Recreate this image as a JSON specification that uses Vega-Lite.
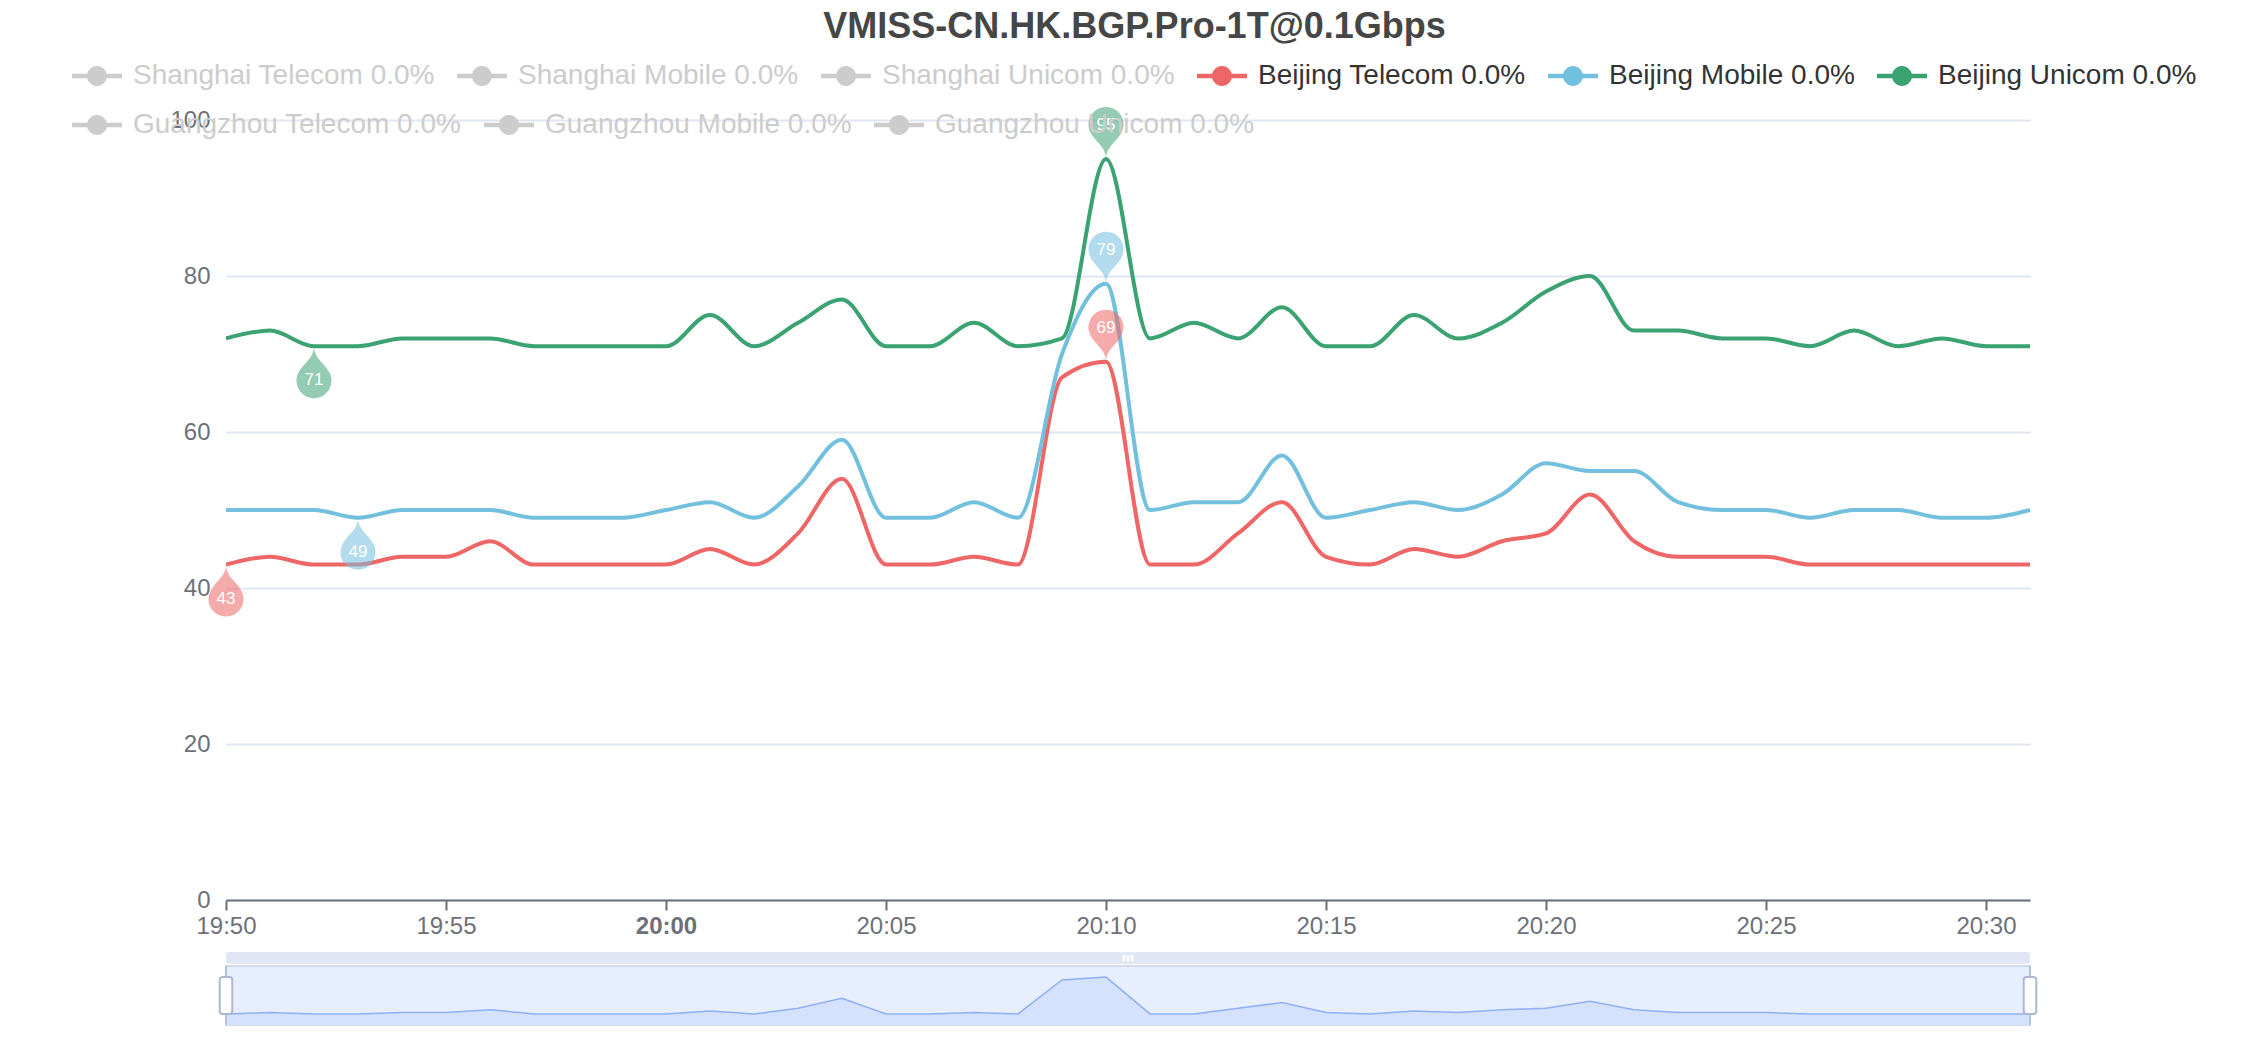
{
  "$schema": "https://vega.github.io/schema/vega-lite/v6.json",
  "padding": {"left": 72, "top": 9, "right": 5, "bottom": 5},
  "background": "white",
  "title": {"text": "VMISS-CN.HK.BGP.Pro-1T@0.1Gbps", "fontSize": 36, "fontWeight": "bold", "color": "#464646", "font": "Liberation Sans", "anchor": "middle", "offset": 5},
  "datasets": {
    "lines": [
      {"t":"2024-01-01T19:50","series":"Beijing Telecom 0.0%","v":43},
      {"t":"2024-01-01T19:51","series":"Beijing Telecom 0.0%","v":44},
      {"t":"2024-01-01T19:52","series":"Beijing Telecom 0.0%","v":43},
      {"t":"2024-01-01T19:53","series":"Beijing Telecom 0.0%","v":43},
      {"t":"2024-01-01T19:54","series":"Beijing Telecom 0.0%","v":44},
      {"t":"2024-01-01T19:55","series":"Beijing Telecom 0.0%","v":44},
      {"t":"2024-01-01T19:56","series":"Beijing Telecom 0.0%","v":46},
      {"t":"2024-01-01T19:57","series":"Beijing Telecom 0.0%","v":43},
      {"t":"2024-01-01T19:58","series":"Beijing Telecom 0.0%","v":43},
      {"t":"2024-01-01T19:59","series":"Beijing Telecom 0.0%","v":43},
      {"t":"2024-01-01T20:00","series":"Beijing Telecom 0.0%","v":43},
      {"t":"2024-01-01T20:01","series":"Beijing Telecom 0.0%","v":45},
      {"t":"2024-01-01T20:02","series":"Beijing Telecom 0.0%","v":43},
      {"t":"2024-01-01T20:03","series":"Beijing Telecom 0.0%","v":47},
      {"t":"2024-01-01T20:04","series":"Beijing Telecom 0.0%","v":54},
      {"t":"2024-01-01T20:05","series":"Beijing Telecom 0.0%","v":43},
      {"t":"2024-01-01T20:06","series":"Beijing Telecom 0.0%","v":43},
      {"t":"2024-01-01T20:07","series":"Beijing Telecom 0.0%","v":44},
      {"t":"2024-01-01T20:08","series":"Beijing Telecom 0.0%","v":43},
      {"t":"2024-01-01T20:09","series":"Beijing Telecom 0.0%","v":67},
      {"t":"2024-01-01T20:10","series":"Beijing Telecom 0.0%","v":69},
      {"t":"2024-01-01T20:11","series":"Beijing Telecom 0.0%","v":43},
      {"t":"2024-01-01T20:12","series":"Beijing Telecom 0.0%","v":43},
      {"t":"2024-01-01T20:13","series":"Beijing Telecom 0.0%","v":47},
      {"t":"2024-01-01T20:14","series":"Beijing Telecom 0.0%","v":51},
      {"t":"2024-01-01T20:15","series":"Beijing Telecom 0.0%","v":44},
      {"t":"2024-01-01T20:16","series":"Beijing Telecom 0.0%","v":43},
      {"t":"2024-01-01T20:17","series":"Beijing Telecom 0.0%","v":45},
      {"t":"2024-01-01T20:18","series":"Beijing Telecom 0.0%","v":44},
      {"t":"2024-01-01T20:19","series":"Beijing Telecom 0.0%","v":46},
      {"t":"2024-01-01T20:20","series":"Beijing Telecom 0.0%","v":47},
      {"t":"2024-01-01T20:21","series":"Beijing Telecom 0.0%","v":52},
      {"t":"2024-01-01T20:22","series":"Beijing Telecom 0.0%","v":46},
      {"t":"2024-01-01T20:23","series":"Beijing Telecom 0.0%","v":44},
      {"t":"2024-01-01T20:24","series":"Beijing Telecom 0.0%","v":44},
      {"t":"2024-01-01T20:25","series":"Beijing Telecom 0.0%","v":44},
      {"t":"2024-01-01T20:26","series":"Beijing Telecom 0.0%","v":43},
      {"t":"2024-01-01T20:27","series":"Beijing Telecom 0.0%","v":43},
      {"t":"2024-01-01T20:28","series":"Beijing Telecom 0.0%","v":43},
      {"t":"2024-01-01T20:29","series":"Beijing Telecom 0.0%","v":43},
      {"t":"2024-01-01T20:30","series":"Beijing Telecom 0.0%","v":43},
      {"t":"2024-01-01T20:31","series":"Beijing Telecom 0.0%","v":43},
      {"t":"2024-01-01T19:50","series":"Beijing Mobile 0.0%","v":50},
      {"t":"2024-01-01T19:51","series":"Beijing Mobile 0.0%","v":50},
      {"t":"2024-01-01T19:52","series":"Beijing Mobile 0.0%","v":50},
      {"t":"2024-01-01T19:53","series":"Beijing Mobile 0.0%","v":49},
      {"t":"2024-01-01T19:54","series":"Beijing Mobile 0.0%","v":50},
      {"t":"2024-01-01T19:55","series":"Beijing Mobile 0.0%","v":50},
      {"t":"2024-01-01T19:56","series":"Beijing Mobile 0.0%","v":50},
      {"t":"2024-01-01T19:57","series":"Beijing Mobile 0.0%","v":49},
      {"t":"2024-01-01T19:58","series":"Beijing Mobile 0.0%","v":49},
      {"t":"2024-01-01T19:59","series":"Beijing Mobile 0.0%","v":49},
      {"t":"2024-01-01T20:00","series":"Beijing Mobile 0.0%","v":50},
      {"t":"2024-01-01T20:01","series":"Beijing Mobile 0.0%","v":51},
      {"t":"2024-01-01T20:02","series":"Beijing Mobile 0.0%","v":49},
      {"t":"2024-01-01T20:03","series":"Beijing Mobile 0.0%","v":53},
      {"t":"2024-01-01T20:04","series":"Beijing Mobile 0.0%","v":59},
      {"t":"2024-01-01T20:05","series":"Beijing Mobile 0.0%","v":49},
      {"t":"2024-01-01T20:06","series":"Beijing Mobile 0.0%","v":49},
      {"t":"2024-01-01T20:07","series":"Beijing Mobile 0.0%","v":51},
      {"t":"2024-01-01T20:08","series":"Beijing Mobile 0.0%","v":49},
      {"t":"2024-01-01T20:09","series":"Beijing Mobile 0.0%","v":70},
      {"t":"2024-01-01T20:10","series":"Beijing Mobile 0.0%","v":79},
      {"t":"2024-01-01T20:11","series":"Beijing Mobile 0.0%","v":50},
      {"t":"2024-01-01T20:12","series":"Beijing Mobile 0.0%","v":51},
      {"t":"2024-01-01T20:13","series":"Beijing Mobile 0.0%","v":51},
      {"t":"2024-01-01T20:14","series":"Beijing Mobile 0.0%","v":57},
      {"t":"2024-01-01T20:15","series":"Beijing Mobile 0.0%","v":49},
      {"t":"2024-01-01T20:16","series":"Beijing Mobile 0.0%","v":50},
      {"t":"2024-01-01T20:17","series":"Beijing Mobile 0.0%","v":51},
      {"t":"2024-01-01T20:18","series":"Beijing Mobile 0.0%","v":50},
      {"t":"2024-01-01T20:19","series":"Beijing Mobile 0.0%","v":52},
      {"t":"2024-01-01T20:20","series":"Beijing Mobile 0.0%","v":56},
      {"t":"2024-01-01T20:21","series":"Beijing Mobile 0.0%","v":55},
      {"t":"2024-01-01T20:22","series":"Beijing Mobile 0.0%","v":55},
      {"t":"2024-01-01T20:23","series":"Beijing Mobile 0.0%","v":51},
      {"t":"2024-01-01T20:24","series":"Beijing Mobile 0.0%","v":50},
      {"t":"2024-01-01T20:25","series":"Beijing Mobile 0.0%","v":50},
      {"t":"2024-01-01T20:26","series":"Beijing Mobile 0.0%","v":49},
      {"t":"2024-01-01T20:27","series":"Beijing Mobile 0.0%","v":50},
      {"t":"2024-01-01T20:28","series":"Beijing Mobile 0.0%","v":50},
      {"t":"2024-01-01T20:29","series":"Beijing Mobile 0.0%","v":49},
      {"t":"2024-01-01T20:30","series":"Beijing Mobile 0.0%","v":49},
      {"t":"2024-01-01T20:31","series":"Beijing Mobile 0.0%","v":50},
      {"t":"2024-01-01T19:50","series":"Beijing Unicom 0.0%","v":72},
      {"t":"2024-01-01T19:51","series":"Beijing Unicom 0.0%","v":73},
      {"t":"2024-01-01T19:52","series":"Beijing Unicom 0.0%","v":71},
      {"t":"2024-01-01T19:53","series":"Beijing Unicom 0.0%","v":71},
      {"t":"2024-01-01T19:54","series":"Beijing Unicom 0.0%","v":72},
      {"t":"2024-01-01T19:55","series":"Beijing Unicom 0.0%","v":72},
      {"t":"2024-01-01T19:56","series":"Beijing Unicom 0.0%","v":72},
      {"t":"2024-01-01T19:57","series":"Beijing Unicom 0.0%","v":71},
      {"t":"2024-01-01T19:58","series":"Beijing Unicom 0.0%","v":71},
      {"t":"2024-01-01T19:59","series":"Beijing Unicom 0.0%","v":71},
      {"t":"2024-01-01T20:00","series":"Beijing Unicom 0.0%","v":71},
      {"t":"2024-01-01T20:01","series":"Beijing Unicom 0.0%","v":75},
      {"t":"2024-01-01T20:02","series":"Beijing Unicom 0.0%","v":71},
      {"t":"2024-01-01T20:03","series":"Beijing Unicom 0.0%","v":74},
      {"t":"2024-01-01T20:04","series":"Beijing Unicom 0.0%","v":77},
      {"t":"2024-01-01T20:05","series":"Beijing Unicom 0.0%","v":71},
      {"t":"2024-01-01T20:06","series":"Beijing Unicom 0.0%","v":71},
      {"t":"2024-01-01T20:07","series":"Beijing Unicom 0.0%","v":74},
      {"t":"2024-01-01T20:08","series":"Beijing Unicom 0.0%","v":71},
      {"t":"2024-01-01T20:09","series":"Beijing Unicom 0.0%","v":72},
      {"t":"2024-01-01T20:10","series":"Beijing Unicom 0.0%","v":95},
      {"t":"2024-01-01T20:11","series":"Beijing Unicom 0.0%","v":72},
      {"t":"2024-01-01T20:12","series":"Beijing Unicom 0.0%","v":74},
      {"t":"2024-01-01T20:13","series":"Beijing Unicom 0.0%","v":72},
      {"t":"2024-01-01T20:14","series":"Beijing Unicom 0.0%","v":76},
      {"t":"2024-01-01T20:15","series":"Beijing Unicom 0.0%","v":71},
      {"t":"2024-01-01T20:16","series":"Beijing Unicom 0.0%","v":71},
      {"t":"2024-01-01T20:17","series":"Beijing Unicom 0.0%","v":75},
      {"t":"2024-01-01T20:18","series":"Beijing Unicom 0.0%","v":72},
      {"t":"2024-01-01T20:19","series":"Beijing Unicom 0.0%","v":74},
      {"t":"2024-01-01T20:20","series":"Beijing Unicom 0.0%","v":78},
      {"t":"2024-01-01T20:21","series":"Beijing Unicom 0.0%","v":80},
      {"t":"2024-01-01T20:22","series":"Beijing Unicom 0.0%","v":73},
      {"t":"2024-01-01T20:23","series":"Beijing Unicom 0.0%","v":73},
      {"t":"2024-01-01T20:24","series":"Beijing Unicom 0.0%","v":72},
      {"t":"2024-01-01T20:25","series":"Beijing Unicom 0.0%","v":72},
      {"t":"2024-01-01T20:26","series":"Beijing Unicom 0.0%","v":71},
      {"t":"2024-01-01T20:27","series":"Beijing Unicom 0.0%","v":73},
      {"t":"2024-01-01T20:28","series":"Beijing Unicom 0.0%","v":71},
      {"t":"2024-01-01T20:29","series":"Beijing Unicom 0.0%","v":72},
      {"t":"2024-01-01T20:30","series":"Beijing Unicom 0.0%","v":71},
      {"t":"2024-01-01T20:31","series":"Beijing Unicom 0.0%","v":71}
    ],
    "pins": [
      {"t":"2024-01-01T19:50","series":"Beijing Telecom 0.0%","v":43,"kind":"min"},
      {"t":"2024-01-01T20:10","series":"Beijing Telecom 0.0%","v":69,"kind":"max"},
      {"t":"2024-01-01T19:53","series":"Beijing Mobile 0.0%","v":49,"kind":"min"},
      {"t":"2024-01-01T20:10","series":"Beijing Mobile 0.0%","v":79,"kind":"max"},
      {"t":"2024-01-01T19:52","series":"Beijing Unicom 0.0%","v":71,"kind":"min"},
      {"t":"2024-01-01T20:10","series":"Beijing Unicom 0.0%","v":95,"kind":"max"}
    ],
    "handles": [
      {"t":"2024-01-01T19:50"},
      {"t":"2024-01-01T20:31"}
    ],
    "grip": [
      {"t":"2024-01-01T20:10:30"}
    ]
  },
  "resolve": {"scale": {"color": "independent", "stroke": "independent"}, "legend": {"color": "independent", "stroke": "independent"}},
  "spacing": 14,
  "vconcat": [
    {
      "width": 1804,
      "height": 780,
      "layer": [
        {
          "data": {"name": "lines"},
          "mark": {"type": "line", "interpolate": "monotone", "strokeWidth": 4},
          "encoding": {
            "x": {"field": "t", "type": "temporal", "title": null,
              "scale": {"domain": [{"year": 2024, "month": 1, "date": 1, "hours": 19, "minutes": 50}, {"year": 2024, "month": 1, "date": 1, "hours": 20, "minutes": 31}], "nice": false},
              "axis": {"format": "%H:%M",
                "values": [
                  {"year": 2024, "month": 1, "date": 1, "hours": 19, "minutes": 50},
                  {"year": 2024, "month": 1, "date": 1, "hours": 19, "minutes": 55},
                  {"year": 2024, "month": 1, "date": 1, "hours": 20, "minutes": 0},
                  {"year": 2024, "month": 1, "date": 1, "hours": 20, "minutes": 5},
                  {"year": 2024, "month": 1, "date": 1, "hours": 20, "minutes": 10},
                  {"year": 2024, "month": 1, "date": 1, "hours": 20, "minutes": 15},
                  {"year": 2024, "month": 1, "date": 1, "hours": 20, "minutes": 20},
                  {"year": 2024, "month": 1, "date": 1, "hours": 20, "minutes": 25},
                  {"year": 2024, "month": 1, "date": 1, "hours": 20, "minutes": 30}
                ],
                "labelFontSize": 24, "labelColor": "#6E7079", "labelFont": "Liberation Sans",
                "labelFontWeight": {"condition": {"test": "datum.label == '20:00'", "value": "bold"}, "value": "normal"},
                "labelFlush": false, "labelOverlap": false, "labelPadding": 4, "domainColor": "#6E7079", "domainWidth": 2, "tickColor": "#6E7079", "tickWidth": 2, "tickSize": 10, "grid": false}},
            "y": {"field": "v", "type": "quantitative", "title": null,
              "scale": {"domain": [0, 100], "nice": false},
              "axis": {"values": [0, 20, 40, 60, 80, 100], "domain": false, "ticks": false, "grid": true, "gridColor": "#E0E6F1", "gridWidth": 2, "labelFontSize": 24, "labelColor": "#6E7079", "labelFont": "Liberation Sans", "labelPadding": 16}},
            "color": {"field": "series", "type": "nominal",
              "scale": {"domain": ["Shanghai Telecom 0.0%", "Shanghai Mobile 0.0%", "Shanghai Unicom 0.0%", "Beijing Telecom 0.0%", "Beijing Mobile 0.0%", "Beijing Unicom 0.0%"],
                "range": ["#CCCCCC", "#CCCCCC", "#CCCCCC", "#EE6666", "#73C0DE", "#3BA272"]},
              "legend": {"orient": "none", "legendX": -154, "legendY": -69, "direction": "horizontal", "columns": 6, "title": null,
                "symbolType": "M-1,-0.09H1V0.09H-1Z M-0.4,0A0.4,0.4 0 1 1 0.4,0A0.4,0.4 0 1 1 -0.4,0Z",
                "symbolSize": 2500, "symbolStrokeWidth": 0,
                "labelFontSize": 28, "labelFont": "Liberation Sans", "labelOffset": 11, "labelLimit": 600,
                "columnPadding": 22, "rowPadding": 10,
                "encode": {
                  "symbols": {"update": {"fill": {"signal": "indexof(datum.value,'Beijing Telecom')==0?'#EE6666':indexof(datum.value,'Beijing Mobile')==0?'#73C0DE':indexof(datum.value,'Beijing Unicom')==0?'#3BA272':'#CCCCCC'"}, "strokeWidth": {"value": 0}, "opacity": {"value": 1}}},
                  "labels": {"update": {"fill": {"signal": "indexof(datum.value,'Beijing')==0?'#333333':'#CCCCCC'"}}}
                }}}
          }
        },
        {
          "data": {"name": "lines"},
          "transform": [{"filter": "indexof(datum.series, 'Guangzhou') == 0"}],
          "mark": {"type": "line", "strokeWidth": 4},
          "encoding": {
            "x": {"field": "t", "type": "temporal"},
            "y": {"field": "v", "type": "quantitative"},
            "stroke": {"field": "series", "type": "nominal",
              "scale": {"domain": ["Guangzhou Telecom 0.0%", "Guangzhou Mobile 0.0%", "Guangzhou Unicom 0.0%"], "range": ["#CCCCCC", "#CCCCCC", "#CCCCCC"]},
              "legend": {"orient": "none", "legendX": -154, "legendY": -20, "direction": "horizontal", "columns": 3, "title": null,
                "symbolType": "M-1,-0.09H1V0.09H-1Z M-0.4,0A0.4,0.4 0 1 1 0.4,0A0.4,0.4 0 1 1 -0.4,0Z",
                "symbolSize": 2500, "symbolStrokeWidth": 0,
                "labelFontSize": 28, "labelFont": "Liberation Sans", "labelOffset": 11, "labelLimit": 600,
                "columnPadding": 22, "rowPadding": 10,
                "encode": {
                  "symbols": {"update": {"fill": {"value": "#CCCCCC"}, "strokeWidth": {"value": 0}, "opacity": {"value": 1}}},
                  "labels": {"update": {"fill": {"value": "#CCCCCC"}}}
                }}}
          }
        },
        {
          "data": {"name": "pins"},
          "transform": [{"filter": "datum.kind == 'max'"}],
          "mark": {"type": "point", "shape": "M-0.454,-0.776A0.5,0.5 0 1 1 0.454,-0.776C0.328,-0.504 0,-0.35 0,0C0,-0.35 -0.328,-0.504 -0.454,-0.776Z", "size": 4900, "filled": true, "opacity": 0.55, "strokeWidth": 0},
          "encoding": {
            "x": {"field": "t", "type": "temporal"},
            "y": {"field": "v", "type": "quantitative"},
            "color": {"field": "series", "type": "nominal", "legend": null}
          }
        },
        {
          "data": {"name": "pins"},
          "transform": [{"filter": "datum.kind == 'min'"}],
          "mark": {"type": "point", "shape": "M-0.454,0.776A0.5,0.5 0 1 0 0.454,0.776C0.328,0.504 0,0.35 0,0C0,0.35 -0.328,0.504 -0.454,0.776Z", "size": 4900, "filled": true, "opacity": 0.55, "strokeWidth": 0},
          "encoding": {
            "x": {"field": "t", "type": "temporal"},
            "y": {"field": "v", "type": "quantitative"},
            "color": {"field": "series", "type": "nominal", "legend": null}
          }
        },
        {
          "data": {"name": "pins"},
          "transform": [{"filter": "datum.kind == 'max'"}],
          "mark": {"type": "text", "dy": -34, "fontSize": 17, "color": "white", "font": "Liberation Sans", "baseline": "middle", "align": "center"},
          "encoding": {
            "x": {"field": "t", "type": "temporal"},
            "y": {"field": "v", "type": "quantitative"},
            "text": {"field": "v", "type": "quantitative"}
          }
        },
        {
          "data": {"name": "pins"},
          "transform": [{"filter": "datum.kind == 'min'"}],
          "mark": {"type": "text", "dy": 34, "fontSize": 17, "color": "white", "font": "Liberation Sans", "baseline": "middle", "align": "center"},
          "encoding": {
            "x": {"field": "t", "type": "temporal"},
            "y": {"field": "v", "type": "quantitative"},
            "text": {"field": "v", "type": "quantitative"}
          }
        }
      ]
    },
    {
      "spacing": 0,
      "vconcat": [
        {
          "width": 1804,
          "height": 12,
          "view": {"fill": "#E0E6F3", "stroke": null, "cornerRadius": 3},
          "data": {"name": "grip"},
          "mark": {"type": "point", "shape": "M-1,-0.545H-0.5V0.545H-1Z M-0.25,-0.545H0.25V0.545H-0.25Z M0.5,-0.545H1V0.545H0.5Z", "size": 121, "filled": true, "color": "white", "opacity": 1, "strokeWidth": 0},
          "encoding": {
            "x": {"field": "t", "type": "temporal", "axis": null,
              "scale": {"domain": [{"year": 2024, "month": 1, "date": 1, "hours": 19, "minutes": 50}, {"year": 2024, "month": 1, "date": 1, "hours": 20, "minutes": 31}], "nice": false}}
          }
        },
        {
          "width": 1804,
          "height": 59,
          "view": {"fill": "#E7EEFD", "stroke": "#D2DBEE", "strokeWidth": 2},
          "layer": [
            {
              "data": {"name": "lines"},
              "transform": [{"filter": "datum.series == 'Beijing Telecom 0.0%'"}],
              "mark": {"type": "area", "interpolate": "linear", "color": "#D5E2FD", "opacity": 1, "clip": true, "line": {"color": "#8FB0F7", "strokeWidth": 1.5}},
              "encoding": {
                "x": {"field": "t", "type": "temporal", "axis": null,
                  "scale": {"domain": [{"year": 2024, "month": 1, "date": 1, "hours": 19, "minutes": 50}, {"year": 2024, "month": 1, "date": 1, "hours": 20, "minutes": 31}], "nice": false}},
                "y": {"field": "v", "type": "quantitative", "axis": null, "scale": {"domain": [35.2, 76.8], "zero": false, "nice": false}}
              }
            },
            {
              "data": {"name": "handles"},
              "mark": {"type": "rule", "color": "#ACB8D1", "strokeWidth": 1.5},
              "encoding": {"x": {"field": "t", "type": "temporal"}}
            },
            {
              "data": {"name": "handles"},
              "mark": {"type": "point", "shape": "M-0.18,-1H0.18A0.16,0.16 0 0 1 0.34,-0.84V0.84A0.16,0.16 0 0 1 0.18,1H-0.18A0.16,0.16 0 0 1 -0.34,0.84V-0.84A0.16,0.16 0 0 1 -0.18,-1Z", "size": 1369, "filled": true, "fill": "white", "stroke": "#ACB8D1", "strokeWidth": 2, "opacity": 1},
              "encoding": {"x": {"field": "t", "type": "temporal"}}
            }
          ]
        }
      ]
    }
  ],
  "config": {
    "font": "Liberation Sans",
    "view": {"stroke": null}
  }
}
